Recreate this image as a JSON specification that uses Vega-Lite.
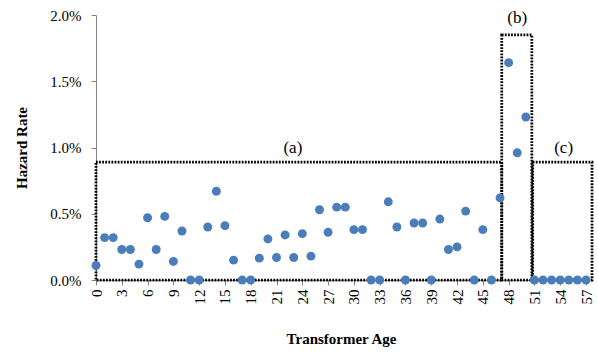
{
  "$schema": "https://vega.github.io/schema/vega-lite/v6.json",
  "autosize": "none",
  "width": 490,
  "height": 265,
  "padding": {"left": 96, "top": 15, "right": 12, "bottom": 74},
  "background": "white",
  "config": {
    "view": {"stroke": null},
    "font": "Liberation Serif",
    "axis": {
      "labelFont": "Liberation Serif, Times New Roman, serif",
      "labelFontSize": 15,
      "labelColor": "black",
      "labelOverlap": false,
      "titleFont": "Liberation Serif, Times New Roman, serif",
      "titleFontSize": 15,
      "titleFontWeight": "bold",
      "titleColor": "black",
      "domainColor": "#868686",
      "tickColor": "#868686",
      "tickSize": 5,
      "grid": false
    }
  },
  "encoding": {
    "x": {
      "field": "age",
      "type": "quantitative",
      "scale": {"domain": [0, 57], "nice": false, "zero": false},
      "axis": {
        "title": "Transformer Age",
        "values": [0, 3, 6, 9, 12, 15, 18, 21, 24, 27, 30, 33, 36, 39, 42, 45, 48, 51, 54, 57],
        "labelFont": "Liberation Serif, Times New Roman, serif",
        "labelFontSize": 15,
        "labelAngle": 270,
        "labelAlign": "right",
        "labelBaseline": "middle",
        "labelPadding": 4,
        "labelFlush": false,
        "labelOverlap": false,
        "titlePadding": 27
      }
    },
    "y": {
      "field": "rate",
      "type": "quantitative",
      "scale": {"domain": [0, 0.02], "nice": false},
      "axis": {
        "title": "Hazard Rate",
        "values": [0, 0.005, 0.01, 0.015, 0.02],
        "format": ".1%",
        "labelFont": "Liberation Serif, Times New Roman, serif",
        "labelFontSize": 15,
        "labelPadding": 10,
        "titlePadding": 20
      }
    }
  },
  "layer": [
    {
      "data": {
        "values": [
          {"region": "a", "age": 0, "age2": 47.2, "rate": 0, "rate2": 0.0089},
          {"region": "b", "age": 47.2, "age2": 50.7, "rate": 0, "rate2": 0.0185},
          {"region": "c", "age": 50.8, "age2": 57.7, "rate": 0, "rate2": 0.0089}
        ]
      },
      "mark": {"type": "rect", "fill": null, "stroke": "black", "strokeWidth": 2.75, "strokeDash": [1.8, 1.3]},
      "encoding": {
        "x2": {"field": "age2"},
        "y2": {"field": "rate2"}
      }
    },
    {
      "data": {
        "values": [
          {"age": 0, "rate": 0.0011},
          {"age": 1, "rate": 0.0032},
          {"age": 2, "rate": 0.0032},
          {"age": 3, "rate": 0.0023},
          {"age": 4, "rate": 0.0023},
          {"age": 5, "rate": 0.0012},
          {"age": 6, "rate": 0.0047},
          {"age": 7, "rate": 0.0023},
          {"age": 8, "rate": 0.0048},
          {"age": 9, "rate": 0.0014},
          {"age": 10, "rate": 0.0037},
          {"age": 11, "rate": 0},
          {"age": 12, "rate": 0},
          {"age": 13, "rate": 0.0040},
          {"age": 14, "rate": 0.0067},
          {"age": 15, "rate": 0.0041},
          {"age": 16, "rate": 0.0015},
          {"age": 17, "rate": 0},
          {"age": 18, "rate": 0},
          {"age": 19, "rate": 0.00165},
          {"age": 20, "rate": 0.0031},
          {"age": 21, "rate": 0.0017},
          {"age": 22, "rate": 0.0034},
          {"age": 23, "rate": 0.0017},
          {"age": 24, "rate": 0.0035},
          {"age": 25, "rate": 0.0018},
          {"age": 26, "rate": 0.0053},
          {"age": 27, "rate": 0.0036},
          {"age": 28, "rate": 0.0055},
          {"age": 29, "rate": 0.0055},
          {"age": 30, "rate": 0.0038},
          {"age": 31, "rate": 0.0038},
          {"age": 32, "rate": 0},
          {"age": 33, "rate": 0},
          {"age": 34, "rate": 0.0059},
          {"age": 35, "rate": 0.0040},
          {"age": 36, "rate": 0},
          {"age": 37, "rate": 0.0043},
          {"age": 38, "rate": 0.0043},
          {"age": 39, "rate": 0},
          {"age": 40, "rate": 0.0046},
          {"age": 41, "rate": 0.0023},
          {"age": 42, "rate": 0.0025},
          {"age": 43, "rate": 0.0052},
          {"age": 44, "rate": 0},
          {"age": 45, "rate": 0.0038},
          {"age": 46, "rate": 0},
          {"age": 47, "rate": 0.0062},
          {"age": 48, "rate": 0.0164},
          {"age": 49, "rate": 0.0096},
          {"age": 50, "rate": 0.0123},
          {"age": 51, "rate": 0},
          {"age": 52, "rate": 0},
          {"age": 53, "rate": 0},
          {"age": 54, "rate": 0},
          {"age": 55, "rate": 0},
          {"age": 56, "rate": 0},
          {"age": 57, "rate": 0}
        ]
      },
      "mark": {"type": "circle", "size": 80, "color": "#4a7ebb", "opacity": 1}
    },
    {
      "data": {
        "values": [
          {"label": "(a)", "age": 22.9, "rate": 0.0100},
          {"label": "(b)", "age": 49.0, "rate": 0.0198},
          {"label": "(c)", "age": 54.4, "rate": 0.0100}
        ]
      },
      "mark": {"type": "text", "font": "Liberation Serif, Times New Roman, serif", "fontSize": 17, "color": "black", "baseline": "middle", "align": "center"},
      "encoding": {
        "text": {"field": "label"}
      }
    }
  ]
}
